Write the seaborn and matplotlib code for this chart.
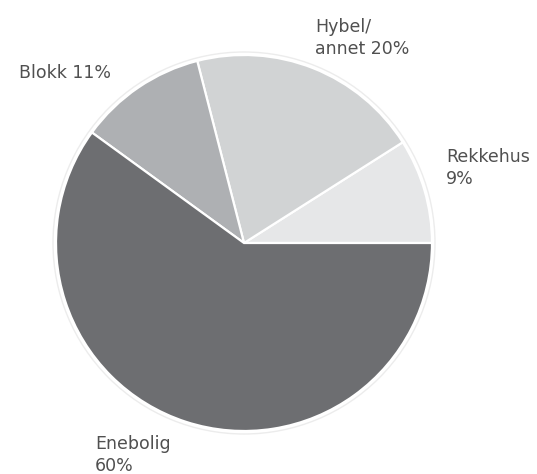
import matplotlib
matplotlib.use("Agg")
import matplotlib.pyplot as plt
from matplotlib.patches import Circle
import seaborn as sns

# data
categories = ["Rekkehus", "Hybel/\nannet", "Blokk", "Enebolig"]
shares = [9, 20, 11, 60]
colors = ["#e6e7e8", "#d1d3d4", "#aeb0b3", "#6d6e71"]
label_texts = ["Rekkehus\n9%", "Hybel/\nannet 20%", "Blokk 11%", "Enebolig\n60%"]

sns.set_style("white")
plt.rcParams["font.family"] = ["DejaVu Sans"]

W, H = 537, 474
fig = plt.figure(figsize=(W / 100, H / 100), dpi=100)
ax = fig.add_axes([0, 0, 1, 1])

cx, cy, r = 244, H - 243, 188

# faint outer ring like the original
ax.add_patch(Circle((cx, cy), r + 3, facecolor="none", edgecolor="#ececec", linewidth=1.0))

ax.pie(
    shares,
    colors=colors,
    startangle=0,
    counterclock=True,
    center=(cx, cy),
    radius=r,
    wedgeprops=dict(edgecolor="white", linewidth=1.6),
)

ax.set_xlim(0, W)
ax.set_ylim(0, H)
ax.set_aspect("equal")
ax.axis("off")

# label anchor points (top-left, pixel coords from top)
label_pos = [(446, 148), (315, 18), (19, 64), (95, 435)]
for txt, (x, y) in zip(label_texts, label_pos):
    ax.text(x, H - y, txt, ha="left", va="top", fontsize=12.5,
            color="#505050", linespacing=1.3)

fig.savefig("out.png", dpi=100)
